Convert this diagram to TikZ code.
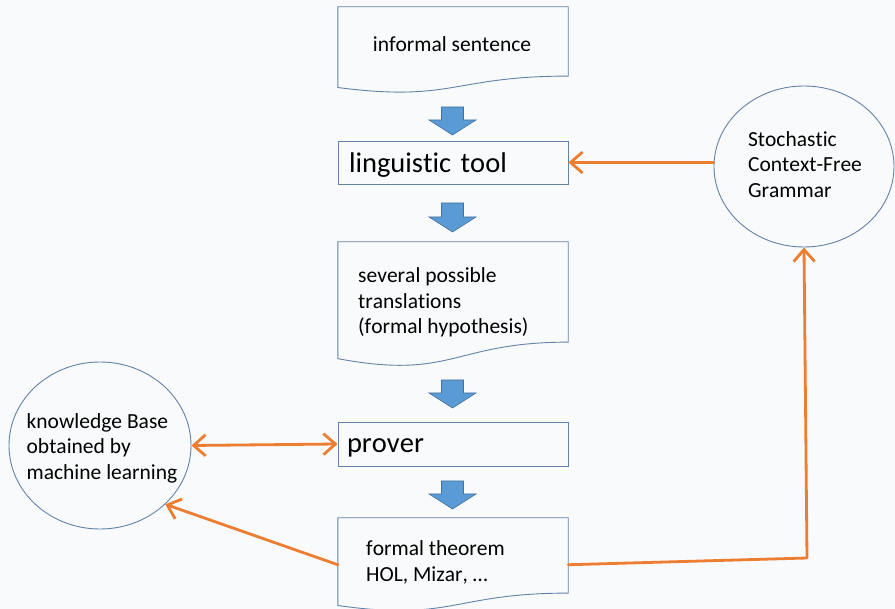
\documentclass[tikz,border=0pt]{standalone}
\usepackage{fontspec}
\setmainfont{Carlito}[Ligatures={NoCommon,NoContextual}, Kerning=Off]
\usetikzlibrary{shapes.geometric,arrows.meta,calc}

\definecolor{paper}{RGB}{249,250,251}
\definecolor{edgeblue}{RGB}{98,130,168}
\definecolor{blockblue}{RGB}{91,155,213}
\definecolor{blockedge}{RGB}{65,113,156}
\definecolor{accent}{RGB}{237,125,49}

% outline of a flowchart "document" shape laid over a named node
\newcommand\docoutline[1]{%
  \draw[docline] (#1.north west) -- (#1.north east)
    -- ($(#1.north east)!0.802!(#1.south east)$)
    .. controls ($(#1.north)!0.802!(#1.south)$) and ($(#1.north)!1.1075!(#1.south)$)
    .. ($(#1.north west)!0.934!(#1.south west)$) -- cycle;}

% thick blue block arrow pointing down: centre x, top y, tip y
\newcommand\downblock[3]{%
  \filldraw[blockarrow] (#1-11,#2) -- (#1+11,#2) -- (#1+11,#3-15) -- (#1+23.5,#3-15)
    -- (#1,#3) -- (#1-23.5,#3-15) -- (#1-11,#3-15) -- cycle;}

\begin{document}
\begin{tikzpicture}[x=1pt,y=-1pt,
  lbl/.style={font=\fontsize{21.5}{25.5}\selectfont, inner sep=0pt, align=left},
  box/.style={draw=edgeblue, line width=0.9pt, minimum width=230pt, minimum height=43pt,
              inner ysep=0pt, align=left, font=\fontsize{28.5}{34}\selectfont},
  docarea/.style={minimum width=230pt, inner sep=0pt},
  docline/.style={draw=edgeblue, line width=0.9pt},
  blob/.style={ellipse, draw=edgeblue, line width=0.9pt, inner sep=0pt},
  blockarrow/.style={fill=blockblue, draw=blockedge, line width=0.6pt, line join=miter},
  flow/.style={draw=accent, line width=2.8pt, line cap=round, line join=round,
               arrows={-{Straight Barb[length=12pt,width=21pt]}}},
  twoway/.style={flow, arrows={{Straight Barb[length=12pt,width=21pt]}-{Straight Barb[length=12pt,width=21pt]}}}]

\fill[paper] (0,0) rectangle (895,609);
\useasboundingbox (0,0) rectangle (895,609);

% main column
\node[docarea, minimum height=86pt] (inf) at (453,50) {};
\docoutline{inf}
\node[lbl] (inf-text) at (452,44.5) {informal sentence};

\downblock{452.5}{107}{135}

\node[box, text width=208pt, inner xsep=11pt, text height=24pt, text depth=3pt] (ling) at (453,162.5) {linguistic tool};

\downblock{452.5}{203}{232}

\node[docarea, minimum height=124.7pt] (trans) at (453,304.35) {};
\docoutline{trans}
\node[lbl, anchor=west] (trans-text) at (358,302.5) {several possible\\translations\\(formal hypothesis)};

\downblock{452.5}{380}{408}

\node[box, text width=212pt, inner xsep=9pt, minimum height=44pt, text height=22pt, text depth=4pt] (prov) at (453,444) {prover};

\downblock{452.5}{481}{509}

\node[docarea, minimum height=93.5pt] (ft) at (453,564.75) {};
\docoutline{ft}
\node[lbl, anchor=west] (ft-text) at (366,562.5) {formal theorem\\HOL, Mizar, \dots};

% side resources
\node[blob, minimum width=182pt, minimum height=167pt] (kb) at (100,445.5) {};
\node[lbl] (kb-text) at (102,448) {knowledge Base\\obtained by\\machine learning};

\node[blob, minimum width=180pt, minimum height=161pt] (sto) at (804,166.5) {};
\node[lbl] (sto-text) at (805,164.5) {Stochastic\\Context-Free\\Grammar};

% connectors
\coordinate (turn) at (807,558);
\draw[flow] (ling.east -| sto.west) -- (ling.east);
\draw[twoway] (kb.east) -- (prov.west);
\draw[flow] (ft.west) -- (kb.-42);
\draw[flow] (ft.east) -- (turn) -- (sto.south);
\end{tikzpicture}
\end{document}
